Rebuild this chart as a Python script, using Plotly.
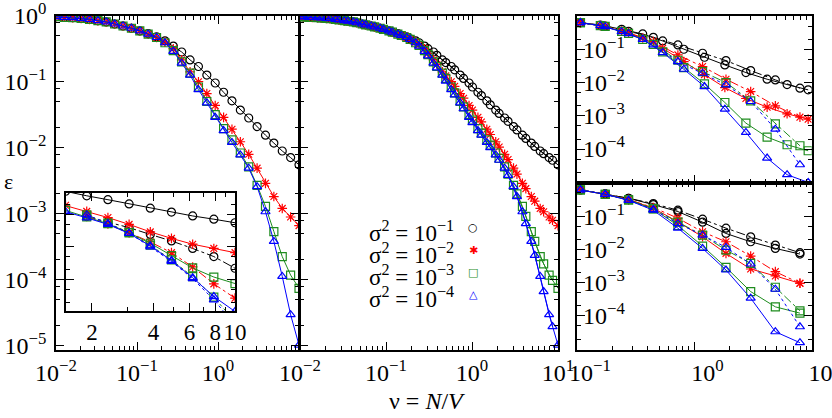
import plotly.graph_objects as go

W, H = 832, 418

# ---------------- data (log10 of epsilon) ----------------
nu_main = [0.01, 0.01269, 0.0161, 0.02043, 0.02593, 0.0329, 0.04175, 0.05298, 0.06723, 0.08532,
           0.1083, 0.1374, 0.1743, 0.2212, 0.2807, 0.3562, 0.452, 0.5736, 0.7279, 0.9237,
           1.172, 1.487, 1.887, 2.395, 3.039, 3.857, 4.894, 6.211, 7.881, 10.0]
p1_black = [-0.015, -0.024, -0.03, -0.04, -0.055, -0.076, -0.095, -0.126, -0.156, -0.19,
            -0.23, -0.27, -0.32, -0.38, -0.46, -0.55, -0.67, -0.77, -0.90, -1.02,
            -1.16, -1.29, -1.43, -1.55, -1.68, -1.81, -1.93, -2.05, -2.15, -2.26]
p1_red = [-0.015, -0.024, -0.03, -0.04, -0.055, -0.076, -0.095, -0.126, -0.156, -0.19,
          -0.23, -0.28, -0.33, -0.40, -0.50, -0.67, -0.85, -1.00, -1.18, -1.36,
          -1.54, -1.72, -1.91, -2.10, -2.31, -2.54, -2.74, -2.92, -3.05, -3.18]
p1_green = [-0.015, -0.024, -0.03, -0.04, -0.055, -0.076, -0.095, -0.126, -0.156, -0.19,
            -0.23, -0.28, -0.33, -0.41, -0.53, -0.70, -0.87, -1.08, -1.30, -1.50,
            -1.71, -1.88, -2.08, -2.29, -2.57, -2.89, -3.27, -3.65, -3.93, -4.13]
p1_blue = [-0.015, -0.024, -0.03, -0.04, -0.055, -0.076, -0.095, -0.126, -0.156, -0.19,
           -0.23, -0.28, -0.33, -0.41, -0.54, -0.72, -0.90, -1.12, -1.32, -1.54,
           -1.74, -1.92, -2.11, -2.31, -2.59, -2.97, -3.42, -3.95, -4.53, -4.99]

nu_mid_b = [0.01096, 0.01391, 0.01765, 0.02239, 0.02842, 0.03606, 0.04576, 0.05807, 0.07368, 0.09351,
            0.1187, 0.1506, 0.191, 0.2424, 0.3077, 0.3904, 0.4954, 0.6287, 0.7978, 1.012,
            1.285, 1.63, 2.068, 2.625, 3.331, 4.227, 5.364, 6.807, 8.638]
p2_black_b = [-0.019, -0.026, -0.034, -0.046, -0.063, -0.084, -0.107, -0.138, -0.17, -0.206,
              -0.25, -0.30, -0.35, -0.41, -0.50, -0.60, -0.71, -0.82, -0.95, -1.08,
              -1.21, -1.35, -1.48, -1.60, -1.73, -1.86, -1.98, -2.09, -2.19]
p2_red_b = [-0.019, -0.026, -0.034, -0.046, -0.063, -0.084, -0.107, -0.138, -0.17, -0.206,
            -0.25, -0.30, -0.36, -0.44, -0.57, -0.74, -0.91, -1.07, -1.25, -1.43,
            -1.61, -1.80, -1.99, -2.18, -2.40, -2.62, -2.81, -2.97, -3.10]
p2_green_b = [-0.019, -0.026, -0.034, -0.046, -0.063, -0.084, -0.107, -0.138, -0.17, -0.206,
              -0.25, -0.30, -0.36, -0.45, -0.59, -0.77, -0.95, -1.17, -1.38, -1.58,
              -1.78, -1.96, -2.16, -2.40, -2.70, -3.04, -3.42, -3.76, -4.01]
p2_blue_b = [-0.019, -0.026, -0.034, -0.046, -0.063, -0.084, -0.107, -0.138, -0.17, -0.206,
             -0.25, -0.30, -0.36, -0.46, -0.61, -0.79, -0.99, -1.20, -1.41, -1.62,
             -1.81, -2.00, -2.19, -2.42, -2.74, -3.15, -3.63, -4.18, -4.71]

# right panels
nu_r_a = [0.107, 0.158, 0.24, 0.363, 0.537, 0.813, 1.22, 1.82, 2.75, 4.17, 6.17, 9.33]
nu_r_b = [0.107, 0.174, 0.275, 0.447, 0.724, 1.175, 1.86, 3.02, 4.9, 7.94]
tr_black_a = [-0.20, -0.27, -0.40, -0.54, -0.75, -1.00, -1.24, -1.47, -1.70, -1.90, -2.06, -2.22]
tr_red_a = [-0.20, -0.29, -0.45, -0.66, -0.97, -1.37, -1.76, -2.15, -2.48, -2.74, -2.94, -3.10]
tr_green_a = [-0.20, -0.29, -0.46, -0.70, -1.08, -1.55, -2.04, -2.60, -3.22, -3.64, -3.87, -4.05]
tr_blue_a = [-0.20, -0.29, -0.47, -0.70, -1.10, -1.60, -2.12, -2.80, -3.50, -4.27, -4.77, -5.00]
tr_black_b = [-0.20, -0.30, -0.46, -0.64, -0.87, -1.12, -1.34, -1.64, -1.92, -2.17]
tr_red_b = [-0.20, -0.31, -0.50, -0.77, -1.17, -1.52, -1.90, -2.27, -2.70, -3.04]
tr_green_b = [-0.20, -0.31, -0.52, -0.85, -1.33, -1.67, -2.00, -2.55, -3.24, -3.90]
tr_blue_b = [-0.20, -0.32, -0.53, -0.87, -1.37, -1.72, -2.07, -2.57, -3.40, -4.47]

br_black_s = [-0.21, -0.33, -0.46, -0.65, -0.86, -1.18, -1.52, -1.77, -1.97, -2.14]
br_black_d = [-0.21, -0.33, -0.46, -0.62, -0.82, -1.09, -1.36, -1.62, -1.87, -2.10]
br_red_s = [-0.21, -0.34, -0.50, -0.76, -1.17, -1.62, -2.12, -2.59, -2.80, -3.02]
br_red_d = [-0.21, -0.34, -0.50, -0.74, -1.06, -1.47, -1.77, -2.20, -2.67, -3.02]
br_green_s = [-0.21, -0.34, -0.51, -0.78, -1.28, -1.90, -2.54, -3.27, -3.73, -3.92]
br_green_d = [-0.21, -0.34, -0.51, -0.77, -1.18, -1.57, -2.02, -2.42, -3.14, -3.85]
br_blue_s = [-0.21, -0.34, -0.52, -0.82, -1.36, -1.97, -2.62, -3.47, -4.48, -4.81]
br_blue_d = [-0.21, -0.34, -0.52, -0.80, -1.22, -1.57, -1.94, -2.44, -3.20, -4.33]

# inset (second data set, dash-dotted)
nu_inset = [1.887, 2.395, 3.039, 3.857, 4.894, 6.211, 7.881, 10.0]
in_black_d = [-2.07, -2.23, -2.41, -2.62, -2.82, -3.05, -3.30, -3.66]
in_red_d = [-2.05, -2.30, -2.57, -2.85, -3.18, -3.62, -4.14, -4.58]
in_green_d = [-2.02, -2.27, -2.56, -2.95, -3.40, -3.92, -4.55, -5.30]
in_blue_d = [-2.02, -2.28, -2.58, -3.00, -3.45, -3.98, -4.63, -5.40]

legend_labels = ["σ<sup>2</sup> = 10<sup>−1</sup>", "σ<sup>2</sup> = 10<sup>−2</sup>",
                 "σ<sup>2</sup> = 10<sup>−3</sup>", "σ<sup>2</sup> = 10<sup>−4</sup>"]

# ---------------- styles ----------------
BLACK, RED, GREEN, BLUE = "#000000", "#ff0000", "#1e8c1e", "#0000ff"
SYM = {BLACK: "circle-open", RED: "asterisk-open", GREEN: "square-open", BLUE: "triangle-up-open"}
SERIF = "Liberation Serif, Times New Roman, serif"

fig = go.Figure()


def add(x, logy, n, color, dash="solid", size=8):
    fig.add_trace(go.Scatter(
        x=x, y=[10 ** v for v in logy],
        xaxis="x" + ("" if n == 1 else str(n)), yaxis="y" + ("" if n == 1 else str(n)),
        mode="lines+markers",
        line=dict(color=color, width=1, dash=dash),
        marker=dict(symbol=SYM[color], size=size, color=color, line=dict(color=color, width=1.2)),
        showlegend=False, hoverinfo="skip"))


# panel 1
for ys, c in [(p1_black, BLACK), (p1_red, RED), (p1_green, GREEN), (p1_blue, BLUE)]:
    add(nu_main, ys, 1, c)
# panel 2
for ya, yb, c in [(p1_black, p2_black_b, BLACK), (p1_red, p2_red_b, RED),
                  (p1_green, p2_green_b, GREEN), (p1_blue, p2_blue_b, BLUE)]:
    add(nu_main, ya, 2, c)
    add(nu_mid_b, yb, 2, c)
# top right
for ya, yb, c, d in [(tr_black_a, tr_black_b, BLACK, "dashdot"), (tr_red_a, tr_red_b, RED, "dashdot"),
                     (tr_green_a, tr_green_b, GREEN, "dashdot"), (tr_blue_a, tr_blue_b, BLUE, "dot")]:
    add(nu_r_b, yb, 3, c, dash=d)
    add(nu_r_a, ya, 3, c)
# bottom right
for ys, yd, c, d in [(br_black_s, br_black_d, BLACK, "dashdot"), (br_red_s, br_red_d, RED, "dashdot"),
                     (br_green_s, br_green_d, GREEN, "dashdot"), (br_blue_s, br_blue_d, BLUE, "dot")]:
    add(nu_r_b, yd, 4, c, dash=d)
    add(nu_r_b, ys, 4, c)
# inset
for ys, yd, c, d in [(p1_black, in_black_d, BLACK, "dashdot"), (p1_red, in_red_d, RED, "dashdot"),
                     (p1_green, in_green_d, GREEN, "dot"), (p1_blue, in_blue_d, BLUE, "dot")]:
    add(nu_inset, yd, 5, c, dash=d)
    add(nu_main, ys, 5, c)


# ---------------- axes ----------------
def dxd(a, b):
    return [a / W, b / W]


def dyd(top, bottom):
    return [1 - bottom / H, 1 - top / H]


def pw(e):
    return "10<sup>" + ("−" if e < 0 else "") + str(abs(e)) + "</sup>"


def minor_vals(lo, hi, mults):
    return [m * 10.0 ** e for e in range(lo, hi) for m in mults]


def axis(domain, rng, anchor, tickvals, ticktext, minor_tv, size=24, **kw):
    d = dict(type="log", domain=domain, range=rng, anchor=anchor,
             showline=True, linecolor="black", linewidth=1.6, mirror="allticks",
             ticks="inside", ticklen=8, tickwidth=1, tickcolor="black",
             showgrid=False, zeroline=False, tickmode="array",
             tickvals=tickvals, ticktext=ticktext,
             tickfont=dict(family=SERIF, size=size, color="black"),
             minor=dict(ticks="inside", ticklen=4, tickwidth=1, tickcolor="black",
                        tickmode="array", tickvals=minor_tv, showgrid=False),
             ticklabeloverflow="allow",
             automargin=False)
    d.update(kw)
    return d


dec_x = [0.01, 0.1, 1, 10]
dec_y = [1, 0.1, 0.01, 1e-3, 1e-4, 1e-5]
xminor = minor_vals(-2, 1, [2, 3, 4, 5, 6, 7, 8, 9])
yminor = minor_vals(-5, 0, [2, 5, 8])
rminor_x = minor_vals(-1, 1, [2, 3, 4, 5, 6, 7, 8, 9])
rminor_y = minor_vals(-5, 0, [2, 5])

P1 = dict(x=dxd(56, 299), y=dyd(15.7, 350))
P2 = dict(x=dxd(300, 558), y=dyd(15.7, 350))
TR = dict(x=dxd(577, 811.7), y=dyd(16, 182.7))
BR = dict(x=dxd(577, 811.7), y=dyd(183, 350))
IN = dict(x=dxd(65.7, 235), y=dyd(192.7, 311))

fig.update_layout(
    width=W, height=H, margin=dict(l=0, r=0, t=0, b=0),
    paper_bgcolor="white", plot_bgcolor="white", showlegend=False,
    xaxis=axis(P1["x"], [-2, 1], "y", dec_x, [pw(-2), pw(-1), pw(0), ""], xminor),
    yaxis=axis(P1["y"], [-5.065, 0], "x", dec_y, [pw(0), pw(-1), pw(-2), pw(-3), pw(-4), pw(-5)], yminor,
               ticklabelstandoff=3),
    xaxis2=axis(P2["x"], [-2, 1], "y2", dec_x, [pw(-2), pw(-1), pw(0), pw(1)], xminor),
    yaxis2=axis(P2["y"], [-5.065, 0], "x2", dec_y, [""] * 6, yminor, showticklabels=False),
    xaxis3=axis(TR["x"], [-1, 1], "y3", [0.1, 1, 10], ["", "", ""], rminor_x, showticklabels=False),
    yaxis3=axis(TR["y"], [-5.01, 0], "x3", dec_y, ["", pw(-1), pw(-2), pw(-3), pw(-4), ""], rminor_y,
                ticklabelposition="inside"),
    xaxis4=axis(BR["x"], [-1, 1], "y4", [0.1, 1, 10], [pw(-1), pw(0), pw(1)], rminor_x,
                ticklabelshift=13),
    yaxis4=axis(BR["y"], [-5.03, 0], "x4", dec_y, ["", pw(-1), pw(-2), pw(-3), pw(-4), ""], rminor_y,
                ticklabelposition="inside"),
    xaxis5=axis(IN["x"], [0.173, 1.0], "y5", [2, 4, 6, 8, 10], ["2", "4", "6", "8", "10"],
                [3, 5, 7, 9], size=23),
    yaxis5=axis(IN["y"], [-4.975, -1.335], "x5", [0.01, 1e-3, 1e-4], ["", "", ""],
                minor_vals(-5, -1, [2, 5]), showticklabels=False),
)

ann = [
    dict(text="ε", x=8 / W, y=1 - 181 / H, xref="paper", yref="paper", showarrow=False,
         xanchor="center", yanchor="middle",
         font=dict(family=SERIF, size=22, color="black")),
    dict(text="ν = <i>N</i>/<i>V</i>", x=427 / W, y=1 - 401 / H, xref="paper", yref="paper",
         xanchor="center", yanchor="middle",
         showarrow=False, font=dict(family=SERIF, size=24, color="black")),
]
legend_syms = [("○", BLACK), ("✱", RED), ("□", GREEN), ("△", BLUE)]
for k, (lab, (sym, col)) in enumerate(zip(legend_labels, legend_syms)):
    yy = 1 - (231 + 22 * k) / H
    ann.append(dict(text=lab, x=456 / W, y=yy, xref="paper", yref="paper", xanchor="right",
                    yanchor="middle",
                    showarrow=False, font=dict(family=SERIF, size=23, color="black")))
    ann.append(dict(text=sym, x=473 / W, y=1 - (228 + 22 * k) / H, xref="paper", yref="paper",
                    xanchor="center", yanchor="middle",
                    showarrow=False, font=dict(family="DejaVu Sans", size=11, color=col)))
fig.update_layout(annotations=ann)

fig.write_html("out.html")
